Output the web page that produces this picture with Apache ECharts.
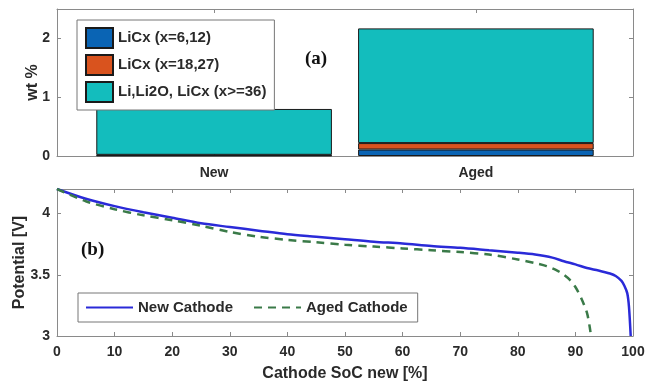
<!DOCTYPE html>
<html>
<head>
<meta charset="utf-8">
<script src="https://cdn.jsdelivr.net/npm/echarts@6/dist/echarts.min.js"></script>
<style>
html,body{margin:0;padding:0;background:#fff;}
#chart{width:653px;height:386px;}
</style>
</head>
<body>
<div id="chart"></div>
<script>
// ---- data ----
const categories = ['New', 'Aged'];
const catTickPos = [1, 2];
const licxLow = [0.01, 0.11];   // LiCx (x=6,12)
const licxMid = [0.01, 0.11];   // LiCx (x=18,27)
const liRest  = [0.78, 1.95];   // Li,Li2O, LiCx (x>=36)
const barNames = ['LiCx (x=6,12)', 'LiCx (x=18,27)', 'Li,Li2O, LiCx (x>=36)'];

const socNew = [0, 5, 10, 15, 20, 25, 30, 35, 40, 45, 50, 55, 60, 65, 70, 75, 80, 83, 86, 88, 90, 92, 94, 96, 97, 98, 98.5, 99, 99.3, 99.6];
const vNew   = [4.20, 4.12, 4.06, 4.01, 3.965, 3.92, 3.89, 3.86, 3.83, 3.81, 3.79, 3.77, 3.755, 3.735, 3.72, 3.70, 3.68, 3.665, 3.64, 3.61, 3.585, 3.555, 3.535, 3.51, 3.49, 3.45, 3.41, 3.35, 3.24, 3.0];
const socAged = [0, 5, 10, 15, 20, 25, 30, 35, 40, 45, 50, 55, 60, 65, 70, 75, 80, 83, 85, 87, 88, 89, 90, 91, 92, 92.5, 92.7];
const vAged   = [4.20, 4.10, 4.035, 3.985, 3.945, 3.90, 3.85, 3.81, 3.785, 3.765, 3.745, 3.73, 3.715, 3.70, 3.685, 3.665, 3.625, 3.595, 3.57, 3.53, 3.50, 3.46, 3.40, 3.31, 3.19, 3.07, 3.0];

const wtTicks = [0, 1, 2];
const vTicks = [3, 3.5, 4];

// ---- styles ----
const FONT = 'Liberation Sans, Arial, sans-serif';
const axisCol = '#8a8a8a';
const txtCol = '#2a2a2a';
const tickLabel = {color: txtCol, fontSize: 14, fontWeight: 'bold', fontFamily: FONT};
const nameStyle = {color: txtCol, fontSize: 16, fontWeight: 'bold', fontFamily: FONT};
const line = {show: true, onZero: false, lineStyle: {color: axisCol, width: 1}};
const tickIn = {show: true, inside: true, length: 4, lineStyle: {color: axisCol}};

function mkPairs(xs, ys) { return xs.map((x, i) => [x, ys[i]]); }

const chart = echarts.init(document.getElementById('chart'), null, {renderer: 'canvas'});
chart.setOption({
  animation: false,
  backgroundColor: '#fff',
  grid: [
    {left: 57, top: 9, width: 576, height: 147},
    {left: 57, top: 189, width: 576, height: 147},
    {left: 83.2, top: 9, width: 523.6, height: 147}
  ],
  xAxis: [
    {gridIndex: 0, type: 'value', min: 0.4, max: 2.6, position: 'bottom',
     axisLine: line, splitLine: {show: false},
     axisTick: Object.assign({}, tickIn, {customValues: catTickPos}),
     axisLabel: {show: false}},
    {gridIndex: 0, type: 'value', min: 0.4, max: 2.6, position: 'top',
     axisLine: line, splitLine: {show: false},
     axisTick: Object.assign({}, tickIn, {customValues: catTickPos}),
     axisLabel: {show: false}},
    {gridIndex: 1, type: 'value', min: 0, max: 100, interval: 10, position: 'bottom',
     name: 'Cathode SoC new [%]', nameLocation: 'middle', nameGap: 30, nameMoveOverlap: false, nameTextStyle: nameStyle,
     axisLine: line, splitLine: {show: false}, axisTick: tickIn,
     axisLabel: Object.assign({}, tickLabel, {margin: 9})},
    {gridIndex: 1, type: 'value', min: 0, max: 100, interval: 10, position: 'top',
     axisLine: line, splitLine: {show: false}, axisTick: tickIn, axisLabel: {show: false}},
    {gridIndex: 2, type: 'category', data: categories, position: 'bottom',
     axisLine: {show: false}, axisTick: {show: false}, splitLine: {show: false},
     axisLabel: Object.assign({}, tickLabel, {margin: 10})}
  ],
  yAxis: [
    {gridIndex: 0, type: 'value', min: 0, max: 2.5, position: 'left',
     name: 'wt %', nameLocation: 'middle', nameGap: 16, nameMoveOverlap: false, nameTextStyle: nameStyle,
     axisLine: line, splitLine: {show: false},
     axisTick: Object.assign({}, tickIn, {customValues: wtTicks}),
     axisLabel: Object.assign({}, tickLabel, {customValues: wtTicks, margin: 7})},
    {gridIndex: 0, type: 'value', min: 0, max: 2.5, position: 'right',
     axisLine: line, splitLine: {show: false},
     axisTick: Object.assign({}, tickIn, {customValues: wtTicks}), axisLabel: {show: false}},
    {gridIndex: 1, type: 'value', min: 3, max: 4.2, position: 'left',
     name: 'Potential [V]', nameLocation: 'middle', nameGap: 29, nameMoveOverlap: false, nameTextStyle: nameStyle,
     axisLine: line, splitLine: {show: false},
     axisTick: Object.assign({}, tickIn, {customValues: vTicks}),
     axisLabel: Object.assign({}, tickLabel, {customValues: vTicks, margin: 7})},
    {gridIndex: 1, type: 'value', min: 3, max: 4.2, position: 'right',
     axisLine: line, splitLine: {show: false},
     axisTick: Object.assign({}, tickIn, {customValues: vTicks}), axisLabel: {show: false}},
    {gridIndex: 2, type: 'value', min: 0, max: 2.5, show: false}
  ],
  legend: [
    {data: barNames, orient: 'vertical', left: 77, top: 20, selectedMode: false, icon: 'rect',
     itemWidth: 27, itemHeight: 20, itemGap: 5, padding: [7, 8, 7, 8],
     borderColor: '#777', borderWidth: 1, backgroundColor: '#fff',
     textStyle: {color: txtCol, fontSize: 15, fontWeight: 'bold', fontFamily: FONT}},
    {data: ['New Cathode', 'Aged Cathode'], orient: 'horizontal', left: 78, top: 293, selectedMode: false,
     itemWidth: 47, itemHeight: 14, itemGap: 20, padding: [7, 10, 7, 7],
     itemStyle: {opacity: 0},
     borderColor: '#777', borderWidth: 1, backgroundColor: '#fff',
     textStyle: {color: txtCol, fontSize: 15, fontWeight: 'bold', fontFamily: FONT}}
  ],
  graphic: [
    {type: 'text', left: 305, top: 50, style: {text: '(a)', font: 'bold 19px "Liberation Serif", "Times New Roman", serif', fill: '#111'}},
    {type: 'text', left: 81, top: 241, style: {text: '(b)', font: 'bold 19px "Liberation Serif", "Times New Roman", serif', fill: '#111'}}
  ],
  series: [
    {name: barNames[0], type: 'bar', xAxisIndex: 4, yAxisIndex: 4, stack: 'wt', barWidth: '90%',
     data: licxLow, itemStyle: {color: '#0a64b4', borderColor: '#1a1a1a', borderWidth: 1}},
    {name: barNames[1], type: 'bar', xAxisIndex: 4, yAxisIndex: 4, stack: 'wt', barWidth: '90%',
     data: licxMid, itemStyle: {color: '#d9531e', borderColor: '#1a1a1a', borderWidth: 1}},
    {name: barNames[2], type: 'bar', xAxisIndex: 4, yAxisIndex: 4, stack: 'wt', barWidth: '90%',
     data: liRest, itemStyle: {color: '#13bdbd', borderColor: '#1a1a1a', borderWidth: 1}},
    {name: 'New Cathode', type: 'line', xAxisIndex: 2, yAxisIndex: 2, symbol: 'none', smooth: 0.3,
     data: mkPairs(socNew, vNew), lineStyle: {color: '#2a2ad8', width: 2.5}, itemStyle: {color: '#2a2ad8'}},
    {name: 'Aged Cathode', type: 'line', xAxisIndex: 2, yAxisIndex: 2, symbol: 'none', smooth: 0.3,
     data: mkPairs(socAged, vAged), lineStyle: {color: '#3a7a48', width: 2.5, type: [8, 6]}, itemStyle: {color: '#3a7a48'}}
  ]
});
</script>
</body>
</html>
